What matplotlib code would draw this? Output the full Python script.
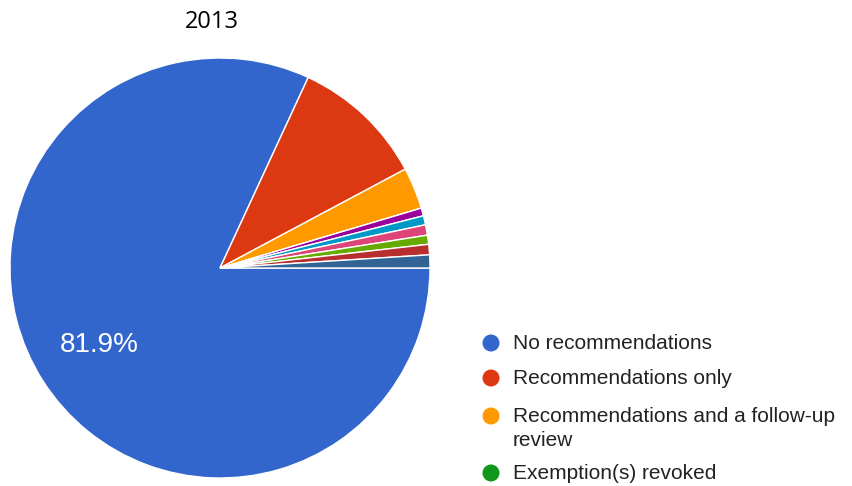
import matplotlib.pyplot as plt

# data (2013)
categories = ["No recommendations", "Recommendations only",
              "Recommendations and a follow-up review", "Exemption(s) revoked",
              "Other 5", "Other 6", "Other 7", "Other 8", "Other 9", "Other 10"]
shares = [81.9, 10.3, 3.2, 0.0, 0.6, 0.7, 0.8, 0.7, 0.8, 1.0]
colors = ["#3366cc", "#dc3912", "#ff9900", "#109618", "#990099",
          "#0099c6", "#dd4477", "#66aa00", "#b82e2e", "#316395"]
legend_labels = ["No recommendations", "Recommendations only",
                 "Recommendations and a follow-up\nreview", "Exemption(s) revoked"]

W, H = 852, 486
fig = plt.figure(figsize=(W / 100, H / 100), dpi=100)

# pie: centre (220, 268), radius 210 px
cx, cy, r = 220, 268, 210
ax = fig.add_axes([(cx - r) / W, (H - cy - r) / H, 2 * r / W, 2 * r / H])
wedges, texts, autotexts = ax.pie(
    shares, colors=colors, startangle=0, counterclock=False,
    autopct=lambda p: f"{p:.1f}%" if p > 50 else "", pctdistance=0.68,
    wedgeprops=dict(edgecolor="white", linewidth=1.0),
    textprops=dict(color="white", fontsize=20, family="Liberation Sans"))
ax.set_aspect("equal")
ax.set_xlim(-1, 1)
ax.set_ylim(-1, 1)

fig.text(212 / W, 1 - 22 / H, "2013", ha="center", va="center",
         fontsize=17, family="Open Sans")

# legend, drawn by hand so the wrapped entry keeps its marker on the first line
lax = fig.add_axes([0, 0, 1, 1])
lax.set_xlim(0, W)
lax.set_ylim(H, 0)
lax.axis("off")
ys = [343, 378, 416, 473]
for lab, col, y in zip(legend_labels, colors[:4], ys):
    lax.scatter([491], [y], s=150, color=col, edgecolors="none")
    for k, line in enumerate(lab.split("\n")):
        lax.text(513, y + 24 * k, line, va="center", fontsize=15,
                 family="Liberation Sans", color="#222222")

fig.savefig("out.png", dpi=100, facecolor="white")
